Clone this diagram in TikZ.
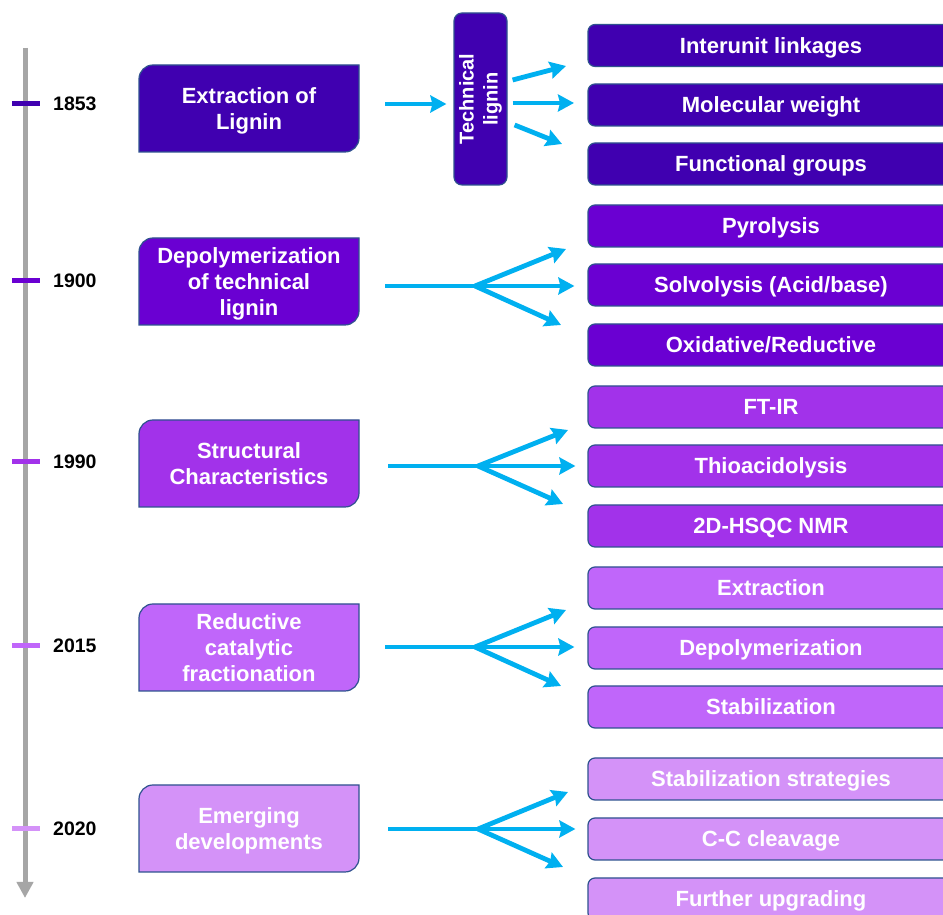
\documentclass[tikz,border=0pt]{standalone}
\usepackage{fontspec}
\setmainfont{Liberation Sans}
\usetikzlibrary{arrows.meta}

\definecolor{stageA}{RGB}{64,0,176}
\definecolor{stageB}{RGB}{106,0,210}
\definecolor{stageC}{RGB}{162,50,234}
\definecolor{stageD}{RGB}{192,102,250}
\definecolor{stageE}{RGB}{212,146,248}
\definecolor{edgeColor}{RGB}{47,82,143}
\definecolor{flowColor}{RGB}{0,176,240}
\definecolor{axisGray}{RGB}{166,166,166}

\tikzset{
  boxtext/.style={text=white,font=\fontsize{22}{26}\selectfont\bfseries,align=center,inner sep=0pt},
  stagebox/.style={boxtext,text depth=0pt,minimum width=220pt,minimum height=87pt},
  stageshape/.style={draw=edgeColor,line width=1.2pt},
  itembox/.style={boxtext,text height=16pt,text depth=0pt,draw=edgeColor,line width=1.2pt,rounded corners=7pt,minimum width=366pt,minimum height=42pt},
  yearlabel/.style={anchor=west,font=\fontsize{19.5}{22}\selectfont\bfseries,inner sep=0pt},
  yeartick/.style={line width=5pt},
  flow/.style={draw=flowColor,line width=4.8pt,-{Stealth[length=16pt,width=17pt,inset=2pt]}},
  stem/.style={draw=flowColor,line width=4.8pt,shorten <=26pt}
}

\begin{document}
\begin{tikzpicture}[x=1pt,y=1pt]
\path[use as bounding box,fill=white] (0,0) rectangle (943,915);
\clip (0,0) rectangle (943,915);

% time axis
\path[draw=axisGray,line width=5pt,-{Triangle[length=16pt,width=16pt]}] (25,867) -- (25,17);

\path[draw=stageA,yeartick] (12,811) -- (40,811);
\path[draw=stageB,yeartick] (12,634) -- (40,634);
\path[draw=stageC,yeartick] (12,453) -- (40,453);
\path[draw=stageD,yeartick] (12,269) -- (40,269);
\path[draw=stageE,yeartick] (12,86) -- (40,86);

\node[yearlabel] (y1853) at (53,811) {1853};
\node[yearlabel] (y1900) at (53,634) {1900};
\node[yearlabel] (y1990) at (53,453) {1990};
\node[yearlabel] (y2015) at (53,269) {2015};
\node[yearlabel] (y2020) at (53,86) {2020};

% stages
\path[stageshape,fill=stageA] (139,763) -- (139,836) arc[start angle=180,end angle=90,radius=14] -- (359,850) -- (359,777) arc[start angle=0,end angle=-90,radius=14] -- cycle;
\path[stageshape,fill=stageB] (139,590) -- (139,663) arc[start angle=180,end angle=90,radius=14] -- (359,677) -- (359,604) arc[start angle=0,end angle=-90,radius=14] -- cycle;
\path[stageshape,fill=stageC] (139,408) -- (139,481) arc[start angle=180,end angle=90,radius=14] -- (359,495) -- (359,422) arc[start angle=0,end angle=-90,radius=14] -- cycle;
\path[stageshape,fill=stageD] (139,224) -- (139,297) arc[start angle=180,end angle=90,radius=14] -- (359,311) -- (359,238) arc[start angle=0,end angle=-90,radius=14] -- cycle;
\path[stageshape,fill=stageE] (139,43) -- (139,116) arc[start angle=180,end angle=90,radius=14] -- (359,130) -- (359,57) arc[start angle=0,end angle=-90,radius=14] -- cycle;

\node[stagebox] (ext) at (249,806.5) {Extraction of\\Lignin};
\node[stagebox] (depol) at (249,633.5) {Depolymerization\\of technical\\lignin};
\node[stagebox] (struc) at (249,451.5) {Structural\\Characteristics};
\node[stagebox] (rcf) at (249,267.5) {Reductive\\catalytic\\fractionation};
\node[stagebox] (emerg) at (249,86.5) {Emerging\\developments};

\node[boxtext,draw=edgeColor,line width=1.2pt,fill=stageA,rounded corners=8pt,minimum width=172pt,minimum height=53pt,rotate=90,font=\fontsize{20}{24}\selectfont\bfseries] (tech) at (480.5,816) {Technical\\lignin};

% items
\node[itembox,fill=stageA] (link) at (771,869.5) {Interunit linkages};
\node[itembox,fill=stageA] (molw) at (771,810) {Molecular weight};
\node[itembox,fill=stageA] (func) at (771,751) {Functional groups};

\node[itembox,fill=stageB] (pyro) at (771,689) {Pyrolysis};
\node[itembox,fill=stageB] (solv) at (771,630) {Solvolysis (Acid/base)};
\node[itembox,fill=stageB] (oxred) at (771,570) {Oxidative/Reductive};

\node[itembox,fill=stageC] (ftir) at (771,508) {FT-IR};
\node[itembox,fill=stageC] (thio) at (771,449) {Thioacidolysis};
\node[itembox,fill=stageC] (hsqc) at (771,389) {2D-HSQC NMR};

\node[itembox,fill=stageD] (extr) at (771,327) {Extraction};
\node[itembox,fill=stageD] (depo) at (771,267) {Depolymerization};
\node[itembox,fill=stageD] (stab) at (771,208) {Stabilization};

\node[itembox,fill=stageE] (strat) at (771,136) {Stabilization strategies};
\node[itembox,fill=stageE] (ccc) at (771,76) {C-C cleavage};
\node[itembox,fill=stageE] (upgr) at (771,16) {Further upgrading};

% arrows
\coordinate (tipLink) at (566,849);
\coordinate (tipMolw) at (574,812);
\coordinate (tipFunc) at (562,771);
\path[flow,shorten <=26pt,shorten >=7pt] ([yshift=4.5pt]ext.east) -- ([yshift=-5pt]tech.north);
\path[flow] ([xshift=5pt,yshift=19pt]tech.south) -- (tipLink);
\path[flow] ([xshift=5pt,yshift=-4pt]tech.south) -- (tipMolw);
\path[flow] ([xshift=7pt,yshift=-26pt]tech.south) -- (tipFunc);

\coordinate (forkB) at (475,629);
\coordinate (tipPyro) at (566,666);
\coordinate (tipOxred) at (561,590);
\path[stem] (depol.east |- forkB) -- (forkB);
\path[flow] (forkB) -- (tipPyro);
\path[flow,shorten >=13pt] (forkB) -- (solv.west |- forkB);
\path[flow] (forkB) -- (tipOxred);

\coordinate (forkC) at (478,449);
\coordinate (tipFtir) at (568,485);
\coordinate (tipHsqc) at (563,411);
\path[stem,shorten <=29pt] (struc.east |- forkC) -- (forkC);
\path[flow] (forkC) -- (tipFtir);
\path[flow,shorten >=12pt] (forkC) -- (thio.west |- forkC);
\path[flow] (forkC) -- (tipHsqc);

\coordinate (forkD) at (475,268);
\coordinate (tipExtr) at (566,305);
\coordinate (tipStab) at (561,229);
\path[stem] (rcf.east |- forkD) -- (forkD);
\path[flow] (forkD) -- (tipExtr);
\path[flow,shorten >=13pt] (forkD) -- (depo.west |- forkD);
\path[flow] (forkD) -- (tipStab);

\coordinate (forkE) at (478,86);
\coordinate (tipStrat) at (568,123);
\coordinate (tipUpgr) at (563,48);
\path[stem,shorten <=29pt] (emerg.east |- forkE) -- (forkE);
\path[flow] (forkE) -- (tipStrat);
\path[flow,shorten >=12pt] (forkE) -- (ccc.west |- forkE);
\path[flow] (forkE) -- (tipUpgr);
\end{tikzpicture}
\end{document}
